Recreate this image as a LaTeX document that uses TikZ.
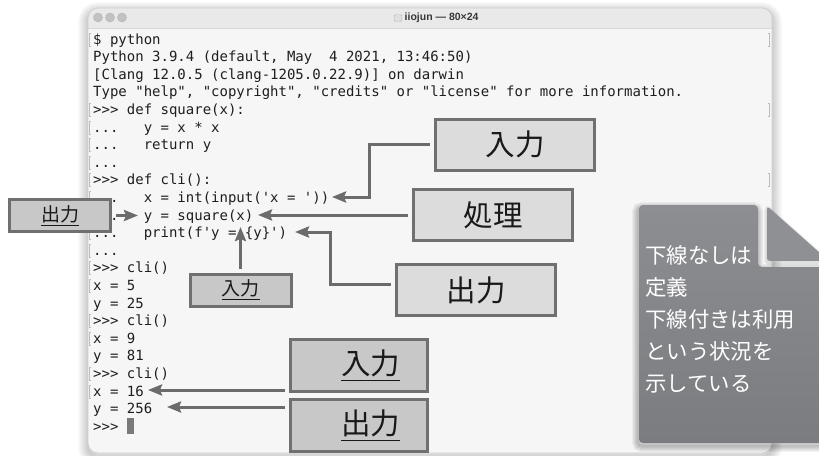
\documentclass[tikz,border=0pt]{standalone}
\usepackage{fontspec}
\newfontfamily\term{DejaVu Sans Mono}
\newfontfamily\jp{Noto Sans CJK JP}
\newfontfamily\ui{Liberation Sans}
\usetikzlibrary{arrows.meta,calc}

\definecolor{wincontent}{HTML}{F6F6F6}
\definecolor{wintitle}{HTML}{E9E9E9}
\definecolor{winedge}{HTML}{CFCFCF}
\definecolor{termtext}{HTML}{1E1E1E}
\definecolor{markgray}{HTML}{BDBDBD}
\definecolor{boxedge}{HTML}{707070}
\definecolor{boxlight}{HTML}{DCDCDC}
\definecolor{boxmid}{HTML}{C8C8C8}
\definecolor{arrowgray}{HTML}{6B6B6B}
\definecolor{notetop}{HTML}{8D8E92}
\definecolor{notebot}{HTML}{7B7C80}
\definecolor{foldgray}{HTML}{8F9094}

% underline for Japanese labels
\newcommand\ulj[1]{\setbox0=\hbox{#1}\rlap{\rule[-0.23em]{\wd0}{0.055em}}\box0}
% one terminal line: row number, text
\newcommand\tline[2]{\node[termline] (l#1) at (93,{44+17.6*#1}) {#2};}
% margin marks of a terminal row
\newcommand\lmark[1]{\draw[markgray, line width=0.8pt] (91,{44+17.6*#1-11}) -- (89.5,{44+17.6*#1-11}) -- (89.5,{44+17.6*#1+2}) -- (91,{44+17.6*#1+2});}
\newcommand\rmark[1]{\draw[markgray, line width=0.8pt] (768,{44+17.6*#1-11}) -- (769.5,{44+17.6*#1-11}) -- (769.5,{44+17.6*#1+2}) -- (768,{44+17.6*#1+2});}

\begin{document}
\begin{tikzpicture}[x=1pt,y=-1pt,
  termline/.style={anchor=base west, inner sep=0pt, text=termtext,
    font=\term\fontsize{14}{17}\selectfont},
  callout/.style={draw=boxedge, line width=3pt, text=black!90, inner sep=0pt,
    font=\jp\fontsize{29.5}{32}\selectfont},
  bigbox/.style={callout, fill=boxlight, minimum width=159pt, minimum height=51pt},
  lowbox/.style={callout, fill=boxmid, minimum width=137pt, minimum height=52pt},
  smallbox/.style={callout, fill=boxmid, minimum width=101pt, minimum height=32pt,
    font=\jp\fontsize{19}{22}\selectfont},
  conn/.style={draw=arrowgray, line width=3pt, shorten <=4pt,
    -{Stealth[length=14pt,width=11pt,inset=2pt]}},
  notetext/.style={anchor=base west, inner sep=0pt, text=white,
    font=\jp\fontsize{21.4}{32}\selectfont}
]
\useasboundingbox (0,0) rectangle (819,455);
\fill[white] (0,0) rectangle (819,455);

% ---- terminal window ----
\begin{scope}[shift={(0,4)}]
  \foreach \k in {1,...,10}
    \draw[black, opacity=0.018, line width=\k*2pt, rounded corners=10]
      (88,8) rectangle (772,453);
\end{scope}
\fill[wincontent, rounded corners=10] (88,8) rectangle (772,453);
\begin{scope}
  \clip[rounded corners=10] (88,8) rectangle (772,453);
  \fill[wintitle] (88,8) rectangle (772,28.5);
  \draw[winedge!80!white, line width=0.8pt] (88,28.5) -- (772,28.5);
\end{scope}
\draw[winedge, line width=0.8pt, rounded corners=10] (88,8) rectangle (772,453);

% title bar: window buttons and title
\foreach \bx [count=\b] in {98,110,122}
  \node[circle, fill=black!24, draw=black!30, line width=0.4pt,
        minimum size=9pt, inner sep=0pt] (btn\b) at (\bx,17.5) {};
\node[draw=black!30, fill=black!12, line width=0.4pt, rounded corners=1pt,
      minimum width=7.5pt, minimum height=6.5pt, inner sep=0pt] (folder) at (398,18) {};
\node[anchor=west, inner sep=0pt, text=black!78, font=\ui\bfseries\fontsize{10.5}{12}\selectfont]
  (title) at (404.5,18) {iiojun — 80×24};

% ---- session text ----
\tline{0}{\$ python}
\tline{1}{Python 3.9.4 (default, May\ \ 4 2021, 13:46:50)}
\tline{2}{[Clang 12.0.5 (clang-1205.0.22.9)] on darwin}
\tline{3}{Type "help", "copyright", "credits" or "license" for more information.}
\tline{4}{>>> def square(x):}
\tline{5}{...\ \ \ y = x * x}
\tline{6}{...\ \ \ return y}
\tline{7}{...}
\tline{8}{>>> def cli():}
\tline{9}{...\ \ \ x = int(input('x = '))}
\tline{10}{...\ \ \ y = square(x)}
\tline{11}{...\ \ \ print(f'y = \{y\}')}
\tline{12}{...}
\tline{13}{>>> cli()}
\tline{14}{x = 5}
\tline{15}{y = 25}
\tline{16}{>>> cli()}
\tline{17}{x = 9}
\tline{18}{y = 81}
\tline{19}{>>> cli()}
\tline{20}{x = 16}
\tline{21}{y = 256}
\tline{22}{>>>}
\fill[black!52] (127,418) rectangle (134,434);

\foreach \r in {0,4,5,6,7,8,9,11,12,13,14,16,17,19,20} { \lmark{\r} }
\foreach \r in {0,4,8} { \rmark{\r} }

% ---- callout boxes ----
\node[bigbox] (inT) at (515,144.5) {入力};
\node[bigbox] (proc) at (493,215) {処理};
\node[bigbox] (outR) at (476,290) {出力};
\node[smallbox] (outL) at (60,215.5) {\ulj{出力}};
\node[smallbox] (inS) at (240.5,290) {\ulj{入力}};
\node[lowbox] (inB) at (359,365.5) {\hspace*{23pt}\ulj{入力}};
\node[lowbox] (outB) at (359,425.5) {\hspace*{23pt}\ulj{出力}};

% arrow ends in the session text
\coordinate (tipA) at (332,197);
\coordinate (tipB) at (258,214.5);
\coordinate (tipC) at (295,232);
\coordinate (tipD) at (138,214.5);
\coordinate (tipE) at (240.5,227);
\coordinate (tipF) at (148,390);
\coordinate (tipG) at (167,407);

\draw[conn] (inT.west) -| ($(tipA)+(37,0)$) -- (tipA);
\draw[conn] (proc.west) -- (proc.west -| tipB);
\draw[conn] ($(outR.west)+(0,-6)$) -| ($(tipC)+(35,0)$) -- (tipC);
\draw[conn] (outL.east) -- (outL.east -| tipD);
\draw[conn] (inS.north) -- (inS.north |- tipE);
\draw[conn] (inB.west |- tipF) -- (tipF);
\draw[conn] (outB.west |- tipG) -- (tipG);

% ---- folded note ----
\begin{scope}[shift={(-1,3)}]
  \foreach \k in {1,...,6}
    \draw[black, opacity=0.045, line width=\k*2pt, rounded corners=4]
      (639,205) -- (758,205) -- (758,267) -- (840,267) -- (840,443) -- (639,443) -- cycle;
\end{scope}
\shade[top color=notetop, bottom color=notebot, rounded corners=4]
  (639,205) -- (758,205) -- (758,267) -- (840,267) -- (840,443) -- (639,443) -- cycle;
\begin{scope}[shift={(0,2)}]
  \foreach \k in {1,...,3}
    \draw[black, opacity=0.04, line width=\k*2pt, rounded corners=3]
      (767,206) -- (829,261) -- (767,261) -- cycle;
\end{scope}
\fill[foldgray, rounded corners=3] (767,206) -- (829,261) -- (767,261) -- cycle;

\foreach \t [count=\i] in {下線なしは, 定義, 下線付きは利用, という状況を, 示している}
  \node[notetext] (note\i) at (645,{263+32*(\i-1)}) {\t};
\end{tikzpicture}
\end{document}
